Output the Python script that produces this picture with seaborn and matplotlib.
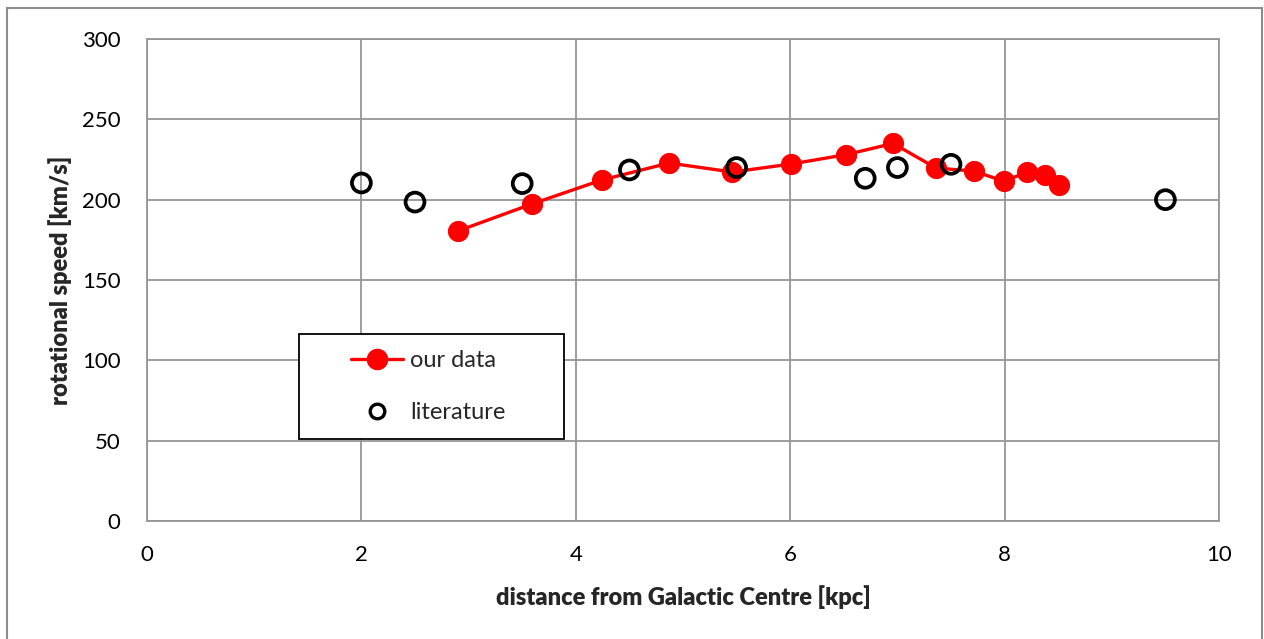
import matplotlib
matplotlib.use("Agg")
import matplotlib.pyplot as plt
import seaborn as sns
import pandas as pd
from matplotlib.lines import Line2D
from matplotlib.patches import Rectangle

our_x = [2.90, 3.59, 4.24, 4.87, 5.46, 6.01, 6.52, 6.96, 7.36, 7.71, 7.99, 8.21, 8.38, 8.51]
our_y = [180.5, 197.3, 212.2, 222.8, 217.2, 222.2, 228.0, 235.0, 219.7, 217.8, 211.6, 217.0, 215.3, 209.0]
lit_x = [2.0, 2.5, 3.5, 4.5, 5.5, 6.7, 7.0, 7.5, 9.5]
lit_y = [210.4, 198.5, 210.0, 218.5, 220.0, 213.3, 220.0, 222.0, 200.0]
x_ticks = [0, 2, 4, 6, 8, 10]
y_ticks = [0, 50, 100, 150, 200, 250, 300]

sns.set_theme(style="white")
plt.rcParams['font.family'] = ['Lato', 'DejaVu Sans']

W, H = 1264, 639
fig = plt.figure(figsize=(W / 100, H / 100), dpi=100)
ax = fig.add_axes([147 / W, 118 / H, 1072 / W, 482 / H])

# outer chart-area border (bottom edge falls outside the image)
fig.patches.append(Rectangle((7 / W, -10 / H), 1255 / W, 641 / H, transform=fig.transFigure,
                             fill=False, edgecolor="#8c8c8c", linewidth=1.5))

df_our = pd.DataFrame({"x": our_x, "y": our_y})
df_lit = pd.DataFrame({"x": lit_x, "y": lit_y})

sns.lineplot(data=df_our, x="x", y="y", sort=False, ax=ax, color="#ff0000", linewidth=2.4,
             marker="o", markersize=14.5, markeredgecolor="#ff0000", markerfacecolor="#ff0000",
             zorder=3)
sns.scatterplot(data=df_lit, x="x", y="y", ax=ax, s=185, facecolors="none",
                edgecolor="black", linewidth=2.7, zorder=4)

ax.set_xlim(0, 10)
ax.set_ylim(0, 300)
ax.set_xticks(x_ticks)
ax.set_yticks(y_ticks)
ax.set_xticklabels([str(t) for t in x_ticks])
ax.set_yticklabels([str(t) for t in y_ticks])
ax.grid(True, color="#969696", linewidth=1.3)
ax.set_axisbelow(True)
for s in ax.spines.values():
    s.set_color("#969696")
    s.set_linewidth(1.3)
ax.tick_params(axis="both", labelsize=16, colors="black", length=0)
ax.tick_params(axis="x", pad=17)
ax.tick_params(axis="y", pad=19)
ax.set_xlabel("distance from Galactic Centre [kpc]", fontsize=17, fontweight="heavy", labelpad=15)
ax.set_ylabel("rotational speed [km/s]", fontsize=17, fontweight="heavy", labelpad=7)

# legend box
ax.add_patch(Rectangle((0.142, 0.170), 0.247, 0.218, transform=ax.transAxes,
                       facecolor="white", edgecolor="black", linewidth=1.3, zorder=6))
handles = [
    Line2D([0], [0], color="#ff0000", linewidth=2.4, marker="o", markersize=14.5,
           markerfacecolor="#ff0000", markeredgecolor="#ff0000"),
    Line2D([0], [0], color="none", marker="o", markersize=10.5,
           markerfacecolor="none", markeredgecolor="black", markeredgewidth=2.4),
]
leg = ax.legend(handles, ["our data", "literature"], loc="center",
                bbox_to_anchor=(0.2625, 0.279), fontsize=17, frameon=False,
                handlelength=2.2, labelspacing=1.3, handletextpad=0.3, borderpad=0)
leg.set_zorder(7)

fig.savefig("out.png", dpi=100)
